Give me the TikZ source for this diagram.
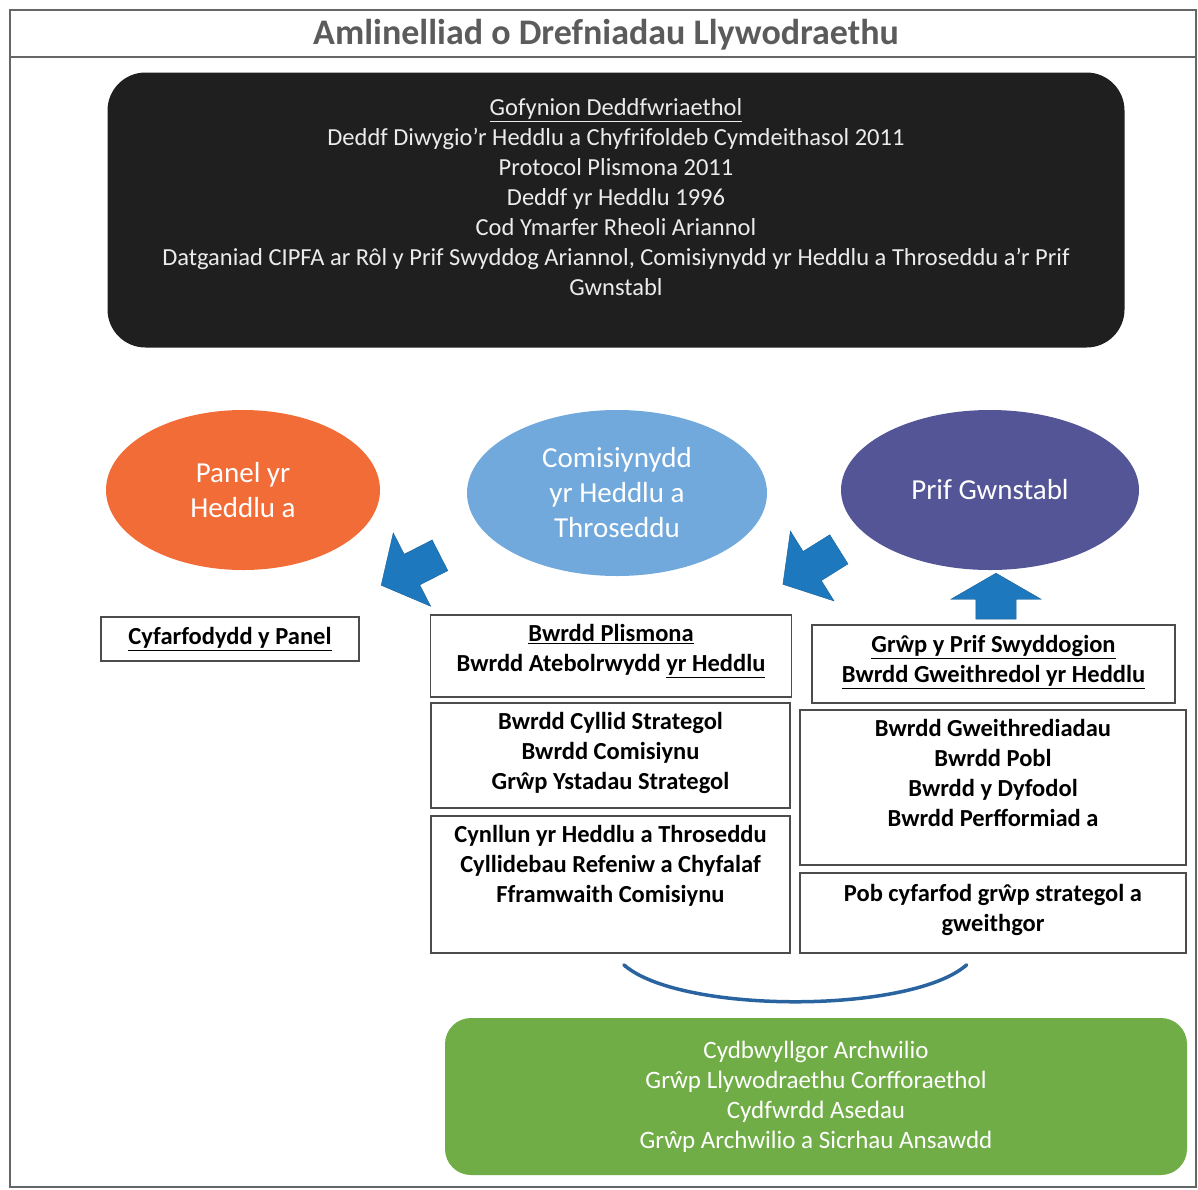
\documentclass[tikz,border=0pt]{standalone}
\usepackage{fontspec}
\setmainfont{Carlito}
\usetikzlibrary{shapes.geometric,shapes.arrows,arrows.meta}
\definecolor{titlegrey}{HTML}{5B5B5B}
\definecolor{lawblack}{HTML}{1F1F1F}
\definecolor{paneorange}{HTML}{F26C38}
\definecolor{pccblue}{HTML}{72A9DC}
\definecolor{ccpurple}{HTML}{545596}
\definecolor{arrowblue}{HTML}{1E78BE}
\definecolor{curveblue}{HTML}{2A64A0}
\definecolor{auditgreen}{HTML}{70AD47}

\begin{document}
\begin{tikzpicture}[x=1pt, y=-1pt,
  govbox/.style={draw=black!70, line width=1.4pt, inner sep=0pt},
  boxtext/.style={align=center, font=\fontsize{24.5}{30}\selectfont\bfseries, inner sep=0pt, anchor=north},
  body/.style={ellipse, inner sep=0pt, text=white, align=center, font=\fontsize{29}{35}\selectfont},
  blockarrow/.style={single arrow, fill=arrowblue, draw=arrowblue!80!black, thin, inner xsep=0pt, inner ysep=17pt,
    minimum height=66pt, single arrow head extend=24pt, single arrow tip angle=100}]
  \useasboundingbox (0,0) rectangle (1198,1189);
  \draw[black!60, line width=1.2pt] (10,10) rectangle (1196,1187);
  \draw[black!60, line width=1.2pt] (10,57) -- (1196,57);
  \node[font=\fontsize{36}{40}\selectfont\bfseries, text=titlegrey] (title) at (606,35) {Amlinelliad o Drefniadau Llywodraethu};

  \node[fill=lawblack, rounded corners=38pt, minimum width=1017pt, minimum height=275pt, inner sep=0pt] (law) at (616,210) {};
  \node[text=black!8, align=center, font=\fontsize{24.5}{30}\selectfont, anchor=north] (lawtext) at (616,95)
    {\underline{Gofynion Deddfwriaethol}\\
     Deddf Diwygio'r Heddlu a Chyfrifoldeb Cymdeithasol 2011\\
     Protocol Plismona 2011\\
     Deddf yr Heddlu 1996\\
     Cod Ymarfer Rheoli Ariannol\\
     Datganiad CIPFA ar Rôl y Prif Swyddog Ariannol, Comisiynydd yr Heddlu a Throseddu a'r Prif\\
     Gwnstabl};

  \node[body, fill=paneorange, minimum width=274pt, minimum height=160pt] (panel) at (243,490) {Panel yr\\Heddlu a};
  \node[body, fill=pccblue, minimum width=300pt, minimum height=166pt] (pcc) at (617,493) {Comisiynydd\\yr Heddlu a\\Throseddu};
  \node[body, fill=ccpurple, minimum width=298pt, minimum height=160pt] (cc) at (990,490) {Prif Gwnstabl};

  \node[blockarrow, rotate=207] (arrowl) at (417,567) {};
  \node[blockarrow, rotate=212] (arrowm) at (817,563) {};
  \node[blockarrow, rotate=90, minimum height=46pt, inner ysep=20pt, single arrow head extend=25pt, single arrow tip angle=120] (arrowr) at (996,602) {};

  \node[govbox, minimum width=258pt, minimum height=44pt] (panelmtg) at (230,639) {};
  \node[boxtext, anchor=center] (panelmtgtext) at (panelmtg) {\underline{Cyfarfodydd y Panel}};

  \node[govbox, minimum width=361pt, minimum height=82pt] (pccone) at (611,656) {};
  \node[boxtext] (pcconetext) at ([yshift=-10pt]pccone.north) {\underline{Bwrdd Plismona}\\Bwrdd Atebolrwydd \underline{yr Heddlu}};
  \node[govbox, minimum width=359pt, minimum height=105pt] (pcctwo) at (610.5,755.5) {};
  \node[boxtext] (pcctwotext) at ([yshift=-10pt]pcctwo.north) {Bwrdd Cyllid Strategol\\Bwrdd Comisiynu\\Grŵp Ystadau Strategol};
  \node[govbox, minimum width=359pt, minimum height=137pt] (pccthree) at (610.5,884.5) {};
  \node[boxtext] (pccthreetext) at ([yshift=-10pt]pccthree.north) {Cynllun yr Heddlu a Throseddu\\Cyllidebau Refeniw a Chyfalaf\\Fframwaith Comisiynu};

  \node[govbox, minimum width=363pt, minimum height=78pt] (ccone) at (993.5,664) {};
  \node[boxtext] (cconetext) at ([yshift=-11pt]ccone.north) {\underline{Grŵp y Prif Swyddogion}\\\underline{Bwrdd Gweithredol yr Heddlu}};
  \node[govbox, minimum width=386pt, minimum height=155pt] (cctwo) at (993,787.5) {};
  \node[boxtext] (cctwotext) at ([yshift=-10pt]cctwo.north) {Bwrdd Gweithrediadau\\Bwrdd Pobl\\Bwrdd y Dyfodol\\Bwrdd Perfformiad a};
  \node[govbox, minimum width=386pt, minimum height=80pt] (ccthree) at (993,913) {};
  \node[boxtext] (ccthreetext) at ([yshift=-12pt]ccthree.north) {Pob cyfarfod grŵp strategol a\\gweithgor};

  \coordinate (curvel) at ([shift={(12,10)}]pccthree.south);
  \coordinate (curver) at ([shift={(-25,10)}]ccthree.south);
  \draw[curveblue, line width=3.5pt, {Round Cap[]}-{Round Cap[]}] (curvel) .. controls ([shift={(60,50)}]curvel) and ([shift={(-60,50)}]curver) .. (curver);

  \node[fill=auditgreen, rounded corners=26pt, minimum width=742pt, minimum height=157pt, inner sep=0pt] (audit) at (816,1096.5) {};
  \node[text=white, align=center, font=\fontsize{25}{30}\selectfont] (audittext) at (audit)
    {Cydbwyllgor Archwilio\\Grŵp Llywodraethu Corfforaethol\\Cydfwrdd Asedau\\Grŵp Archwilio a Sicrhau Ansawdd};
\end{tikzpicture}
\end{document}
